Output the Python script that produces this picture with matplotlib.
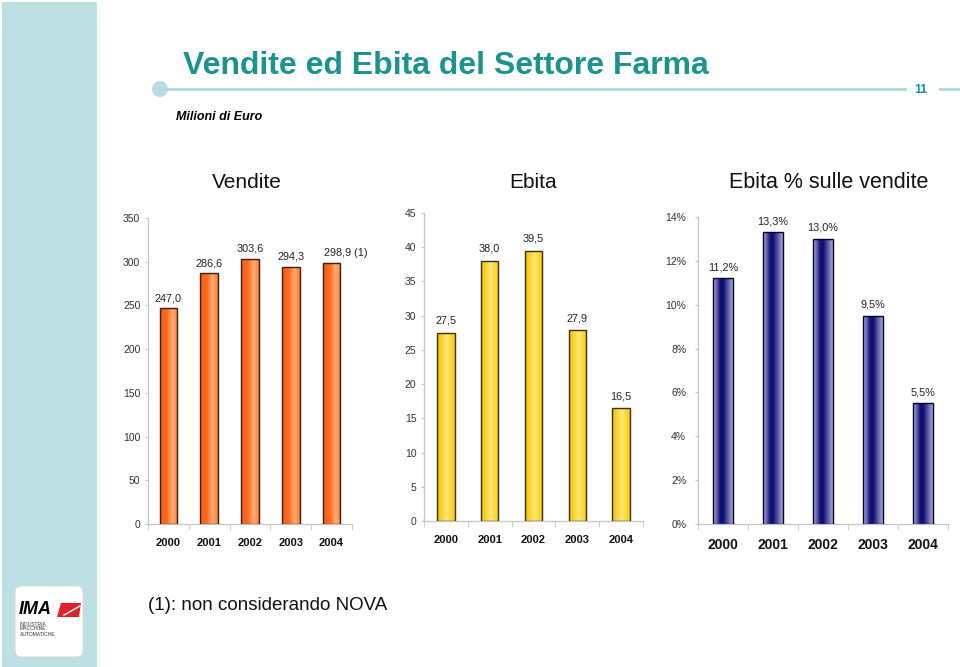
import matplotlib
matplotlib.use("Agg")
import numpy as np
from matplotlib import pyplot as plt
from matplotlib.colors import LinearSegmentedColormap
from matplotlib.patches import Rectangle, Circle, FancyBboxPatch, Polygon

plt.rcParams['font.family'] = ['Liberation Sans', 'DejaVu Sans']

# Data
YEARS = ['2000', '2001', '2002', '2003', '2004']
VENDITE = [247.0, 286.6, 303.6, 294.3, 298.9]
EBITA = [27.5, 38.0, 39.5, 27.9, 16.5]
EBITA_PCT = [11.2, 13.3, 13.0, 9.5, 5.5]
VENDITE_NOTE = ['', '', '', '', ' (1)']

TEAL = '#1b9490'
PALE = '#bde0e5'
AXIS_GREY = '#c4c4c4'

ORANGE = LinearSegmentedColormap.from_list(
    'orange', [(0, '#f25e14'), (0.4, '#ff6c22'), (0.72, '#ffae78'), (1, '#ff7a30')])
YELLOW = LinearSegmentedColormap.from_list(
    'yellow', [(0, '#f0bf00'), (0.55, '#ffe870'), (1, '#f6c80c')])
BLUE = LinearSegmentedColormap.from_list(
    'blue', [(0, '#b4b4e2'), (0.35, '#16167c'), (0.5, '#0b0b6c'), (1, '#a8a8da')])


def fmt(v, pct=False):
    s = f"{v:.1f}".replace('.', ',')
    return s + '%' if pct else s


def draw_panel(ax, values, cmap, edge, ymax, step, pct=False, notes=None,
               year_size=8, bar_w=0.43, lab_off=10):
    n = len(values)
    x = np.arange(n)
    grad = np.linspace(0, 1, 64).reshape(1, -1)
    for i, v in enumerate(values):
        x0 = x[i] - bar_w / 2
        rect = Rectangle((x0, 0), bar_w, v, facecolor='none', edgecolor=edge,
                         linewidth=1.0, zorder=3)
        ax.add_patch(rect)
        im = ax.imshow(grad, cmap=cmap, extent=(x0, x0 + bar_w, 0, v),
                       aspect='auto', zorder=2, interpolation='bilinear')
        im.set_clip_path(rect)
        label = fmt(v, pct)
        dx = 0
        if notes and notes[i]:
            label += notes[i]
            dx = 14
        ax.annotate(label, (x[i], v), xytext=(dx, lab_off), textcoords='offset pixels',
                    ha='center', va='center', fontsize=7.8, color='#222222')

    ax.set_xlim(-0.5, n - 0.5)
    ax.set_ylim(0, ymax)
    ax.set_facecolor('none')
    for s in ('top', 'right'):
        ax.spines[s].set_visible(False)
    for s in ('left', 'bottom'):
        ax.spines[s].set_color(AXIS_GREY)
        ax.spines[s].set_linewidth(0.9)

    ticks = np.arange(0, ymax + step / 2, step)
    ax.set_yticks(ticks)
    if pct:
        ax.set_yticklabels([f"{t:.0f}%" for t in ticks])
    else:
        ax.set_yticklabels([f"{t:.0f}" for t in ticks])
    ax.tick_params(axis='y', length=2.5, color=AXIS_GREY, labelsize=7.5,
                   labelcolor='#333333', pad=3 if not pct else 6)

    ax.set_xticks(x)
    ax.set_xticklabels(YEARS, fontweight='bold', fontsize=year_size)
    ax.set_xticks(np.arange(-0.5, n, 1), minor=True)
    ax.tick_params(axis='x', which='major', length=0, pad=10, labelcolor='#111111')
    ax.tick_params(axis='x', which='minor', length=4, color=AXIS_GREY)


fig = plt.figure(figsize=(9.6, 6.67), dpi=100)

# Page decoration in pixel coordinates
bg = fig.add_axes([0, 0, 1, 1], zorder=-1)
bg.set_xlim(0, 960)
bg.set_ylim(667, 0)
bg.axis('off')
bg.add_patch(Rectangle((2, 2), 95, 665, facecolor=PALE, edgecolor='none'))
bg.plot([160, 905], [89, 89], color='#aed9dd', lw=2)
bg.plot([940, 960], [89, 89], color='#aed9dd', lw=2)
bg.add_patch(Circle((160, 89), 8, facecolor='#b5dde1', edgecolor='none'))
bg.text(921, 90, '11', color=TEAL, fontsize=9, fontweight='bold', ha='center', va='center')
bg.text(183, 66, 'Vendite ed Ebita del Settore Farma', color=TEAL, fontsize=23,
        fontweight='bold', ha='left', va='center')
bg.text(176, 117, 'Milioni di Euro', fontsize=9, fontweight='bold', style='italic',
        ha='left', va='center')
bg.text(247, 183, 'Vendite', fontsize=15, ha='center', va='center', color='#111111')
bg.text(533, 183, 'Ebita', fontsize=15, ha='center', va='center', color='#111111')
bg.text(829, 183, 'Ebita % sulle vendite', fontsize=15.5, ha='center', va='center',
        color='#111111')
bg.text(148, 605, '(1): non considerando NOVA', fontsize=13.5, ha='left', va='center',
        color='#111111')

# Logo
bg.add_patch(FancyBboxPatch((15, 586), 68, 71, boxstyle='round,pad=0,rounding_size=6',
                            facecolor='white', edgecolor='#d8d8d8', lw=0.8))
bg.text(19, 610, 'IMA', fontsize=13, fontweight='bold', style='italic', ha='left',
        va='center', color='black')
bg.add_patch(Polygon([(61, 603), (81, 603), (79, 617), (57, 617)], closed=True,
                     facecolor='#e0202a', edgecolor='none'))
bg.plot([64, 80], [615, 606], color='white', lw=1)
bg.text(20, 629, 'INDUSTRIA\nMACCHINE\nAUTOMATICHE', fontsize=3.6, ha='left',
        va='center', color='#333333', linespacing=1.0)

# Charts
ax1 = fig.add_axes([148 / 960, 1 - 524 / 667, 204 / 960, 306 / 667])
draw_panel(ax1, VENDITE, ORANGE, '#3a1e10', 350, 50, notes=VENDITE_NOTE, year_size=8)

ax2 = fig.add_axes([424 / 960, 1 - 521 / 667, 219 / 960, 308 / 667])
draw_panel(ax2, EBITA, YELLOW, '#3a3000', 45, 5, year_size=8, bar_w=0.4, lab_off=12)

ax3 = fig.add_axes([698 / 960, 1 - 524 / 667, 250 / 960, 307 / 667])
draw_panel(ax3, EBITA_PCT, BLUE, '#000030', 14, 2, pct=True, year_size=10,
           bar_w=0.4, lab_off=11)

fig.savefig('out.png', dpi=100)
